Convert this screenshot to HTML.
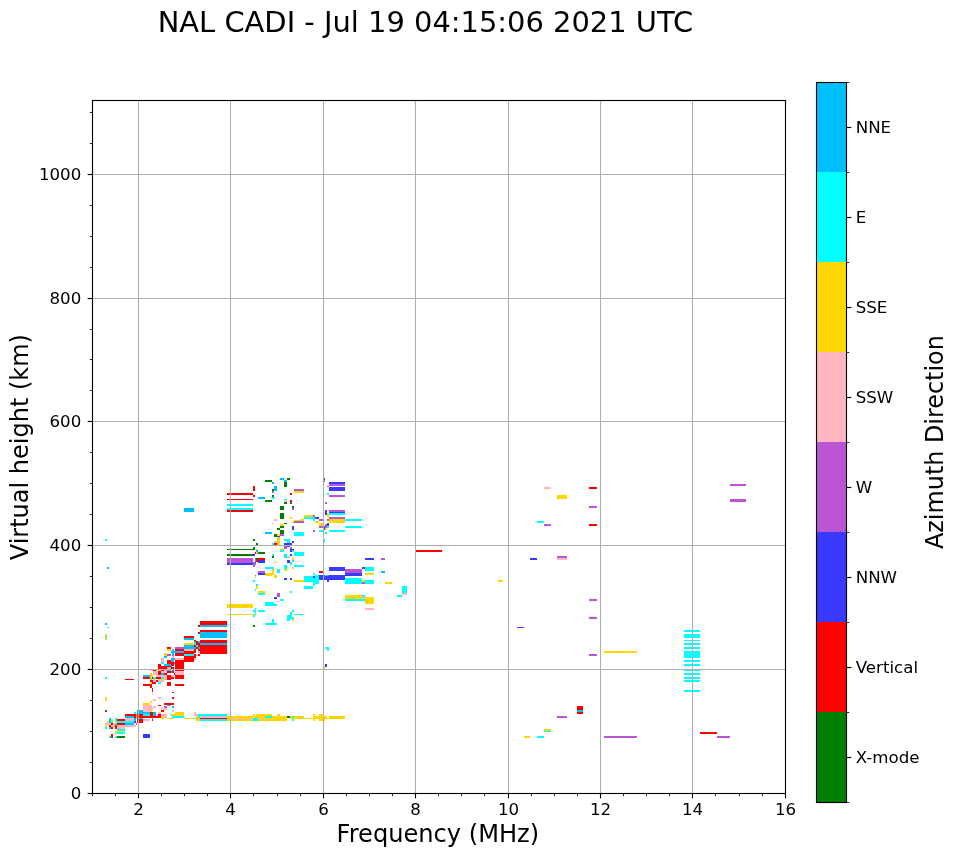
<!DOCTYPE html>
<html><head><meta charset="utf-8"><title>NAL CADI ionogram</title>
<style>
html,body{margin:0;padding:0;background:#fff}
svg{display:block}
text{font-family:"DejaVu Sans","Liberation Sans",sans-serif;fill:#000}
.t12{font-size:16.67px}.t17{font-size:25px}.t20{font-size:27.78px}
</style></head><body>
<svg width="958" height="857" viewBox="0 0 958 857">
<rect width="958" height="857" fill="#fff"/>
<g shape-rendering="crispEdges">
<rect x="104.9" y="697.1" width="2.0" height="3.8" fill="#ffd700"/>
<rect x="104.9" y="710.0" width="2.0" height="2.0" fill="#3a3aff"/>
<rect x="108.9" y="718.0" width="2.0" height="4.9" fill="#00bfff"/>
<rect x="110.9" y="719.0" width="2.0" height="2.0" fill="#ffd700"/>
<rect x="110.9" y="721.0" width="2.0" height="1.9" fill="#00ffff"/>
<rect x="106.9" y="721.0" width="2.0" height="1.9" fill="#ffd700"/>
<rect x="114.9" y="718.0" width="2.0" height="3.0" fill="#00ffff"/>
<rect x="114.9" y="721.0" width="2.0" height="1.9" fill="#ffd700"/>
<rect x="104.9" y="722.9" width="5.9" height="2.1" fill="#ffb6c1"/>
<rect x="110.9" y="722.9" width="2.0" height="2.1" fill="#ff0000"/>
<rect x="112.8" y="722.9" width="2.1" height="2.1" fill="#ffb6c1"/>
<rect x="114.9" y="722.9" width="2.0" height="2.1" fill="#00ffff"/>
<rect x="104.9" y="725.0" width="2.0" height="2.0" fill="#ffd700"/>
<rect x="108.9" y="725.0" width="2.0" height="2.0" fill="#ff0000"/>
<rect x="110.9" y="725.0" width="2.0" height="2.0" fill="#ffb6c1"/>
<rect x="112.8" y="725.0" width="2.1" height="2.0" fill="#ffd700"/>
<rect x="114.9" y="725.0" width="2.0" height="3.9" fill="#ff0000"/>
<rect x="104.9" y="727.0" width="2.0" height="1.9" fill="#00ffff"/>
<rect x="108.9" y="727.0" width="2.0" height="1.9" fill="#00bfff"/>
<rect x="110.9" y="727.0" width="2.0" height="1.9" fill="#ff0000"/>
<rect x="116.9" y="719.2" width="8.0" height="1.8" fill="#ff0000"/>
<rect x="116.9" y="721.0" width="8.0" height="1.9" fill="#00ffff"/>
<rect x="116.9" y="722.9" width="8.0" height="2.1" fill="#ff0000"/>
<rect x="116.9" y="725.0" width="8.0" height="3.9" fill="#ffb6c1"/>
<rect x="116.9" y="728.8" width="8.0" height="2.1" fill="#00ffff"/>
<rect x="114.9" y="730.9" width="2.0" height="2.9" fill="#ffd700"/>
<rect x="116.9" y="730.9" width="8.0" height="0.8" fill="#ffd700"/>
<rect x="116.9" y="731.8" width="8.0" height="2.1" fill="#00ffff"/>
<rect x="116.9" y="736.0" width="8.0" height="2.0" fill="#008000"/>
<rect x="114.9" y="736.0" width="2.0" height="2.0" fill="#00ffff"/>
<rect x="110.9" y="734.1" width="2.0" height="4.0" fill="#ff0000"/>
<rect x="108.9" y="736.0" width="2.0" height="2.0" fill="#00ffff"/>
<rect x="124.9" y="714.0" width="11.1" height="2.1" fill="#ff0000"/>
<rect x="124.9" y="716.1" width="9.0" height="1.9" fill="#00bfff"/>
<rect x="124.9" y="718.0" width="9.0" height="3.0" fill="#ffb6c1"/>
<rect x="124.9" y="721.0" width="9.0" height="1.9" fill="#00ffff"/>
<rect x="124.9" y="722.9" width="9.0" height="2.1" fill="#00bfff"/>
<rect x="124.9" y="725.0" width="11.1" height="2.0" fill="#ffb6c1"/>
<rect x="133.9" y="712.0" width="2.1" height="2.0" fill="#00ffff"/>
<rect x="133.9" y="716.1" width="2.1" height="1.9" fill="#ff0000"/>
<rect x="136.0" y="714.0" width="1.0" height="5.2" fill="#ffd700"/>
<rect x="133.9" y="718.0" width="2.1" height="3.0" fill="#00bfff"/>
<rect x="133.9" y="721.0" width="2.1" height="1.9" fill="#3a3aff"/>
<rect x="136.0" y="722.9" width="1.0" height="2.1" fill="#ba55d3"/>
<rect x="137.1" y="710.0" width="5.9" height="4.0" fill="#00bfff"/>
<rect x="137.1" y="714.0" width="5.9" height="4.0" fill="#ff0000"/>
<rect x="137.1" y="718.0" width="5.9" height="1.0" fill="#00bfff"/>
<rect x="137.1" y="719.0" width="5.9" height="3.9" fill="#ff0000"/>
<rect x="143.0" y="703.0" width="6.9" height="2.1" fill="#ffd700"/>
<rect x="149.9" y="701.0" width="2.0" height="2.1" fill="#ffd700"/>
<rect x="143.0" y="705.1" width="8.9" height="6.9" fill="#ffb6c1"/>
<rect x="149.9" y="710.0" width="2.0" height="2.0" fill="#ffd700"/>
<rect x="151.9" y="708.0" width="1.0" height="2.1" fill="#ffd700"/>
<rect x="143.0" y="712.0" width="6.9" height="2.0" fill="#00bfff"/>
<rect x="143.0" y="714.0" width="6.9" height="2.1" fill="#00ffff"/>
<rect x="143.0" y="716.1" width="17.8" height="1.9" fill="#ff0000"/>
<rect x="143.0" y="719.0" width="6.9" height="2.0" fill="#ffb6c1"/>
<rect x="149.9" y="712.0" width="3.0" height="4.1" fill="#ff0000"/>
<rect x="152.9" y="712.0" width="3.0" height="4.1" fill="#00bfff"/>
<rect x="155.9" y="714.0" width="2.0" height="2.1" fill="#ffb6c1"/>
<rect x="157.9" y="714.0" width="2.9" height="2.1" fill="#ff0000"/>
<rect x="157.9" y="712.0" width="2.9" height="2.0" fill="#ffb6c1"/>
<rect x="151.9" y="690.0" width="1.0" height="2.1" fill="#ff0000"/>
<rect x="151.9" y="693.1" width="1.0" height="1.9" fill="#ffd700"/>
<rect x="152.9" y="699.0" width="3.0" height="2.0" fill="#ffb6c1"/>
<rect x="157.9" y="697.0" width="2.9" height="2.0" fill="#ffb6c1"/>
<rect x="152.9" y="706.0" width="3.0" height="2.0" fill="#ffb6c1"/>
<rect x="157.9" y="704.9" width="2.9" height="1.0" fill="#ff0000"/>
<rect x="151.9" y="719.0" width="1.0" height="2.0" fill="#ff0000"/>
<rect x="151.9" y="718.0" width="1.0" height="1.0" fill="#00ffff"/>
<rect x="163.9" y="703.0" width="10.0" height="2.1" fill="#ff0000"/>
<rect x="166.8" y="705.1" width="4.2" height="0.8" fill="#00bfff"/>
<rect x="163.9" y="706.0" width="2.9" height="2.0" fill="#ba55d3"/>
<rect x="171.9" y="706.0" width="2.0" height="2.0" fill="#00bfff"/>
<rect x="160.9" y="708.0" width="5.9" height="2.1" fill="#ffb6c1"/>
<rect x="160.9" y="710.0" width="3.0" height="2.0" fill="#ff0000"/>
<rect x="171.9" y="710.0" width="2.0" height="2.0" fill="#ffb6c1"/>
<rect x="160.9" y="714.0" width="5.9" height="4.0" fill="#ffb6c1"/>
<rect x="160.9" y="716.1" width="3.0" height="2.9" fill="#ffd700"/>
<rect x="166.8" y="718.0" width="7.1" height="1.0" fill="#ffd700"/>
<rect x="171.9" y="691.9" width="2.0" height="1.0" fill="#ff0000"/>
<rect x="171.9" y="697.0" width="2.0" height="2.0" fill="#ff0000"/>
<rect x="171.0" y="714.0" width="0.9" height="2.1" fill="#00ffff"/>
<rect x="171.9" y="714.0" width="3.0" height="2.1" fill="#ffd700"/>
<rect x="174.9" y="712.0" width="9.0" height="4.1" fill="#ffd700"/>
<rect x="171.9" y="716.1" width="12.0" height="1.9" fill="#00ffff"/>
<rect x="183.9" y="718.0" width="12.1" height="1.0" fill="#ffd700"/>
<rect x="193.9" y="712.0" width="2.1" height="4.1" fill="#ffb6c1"/>
<rect x="196.0" y="714.0" width="2.1" height="2.1" fill="#ffb6c1"/>
<rect x="198.1" y="714.0" width="1.9" height="4.0" fill="#00ffff"/>
<rect x="196.0" y="716.1" width="4.0" height="4.9" fill="#ffd700"/>
<rect x="193.9" y="718.0" width="2.1" height="1.0" fill="#00ffff"/>
<rect x="143.0" y="734.1" width="6.9" height="4.0" fill="#3a3aff"/>
<rect x="195.0" y="712.0" width="1.0" height="4.1" fill="#ffb6c1"/>
<rect x="196.0" y="714.0" width="1.9" height="2.1" fill="#ffb6c1"/>
<rect x="197.9" y="714.0" width="29.1" height="2.1" fill="#00ffff"/>
<rect x="197.9" y="716.1" width="2.1" height="1.9" fill="#00ffff"/>
<rect x="200.0" y="716.1" width="27.0" height="1.9" fill="#ffb6c1"/>
<rect x="200.0" y="718.0" width="27.0" height="1.0" fill="#ff0000"/>
<rect x="200.0" y="719.0" width="27.0" height="2.0" fill="#00ffff"/>
<rect x="196.0" y="716.1" width="1.9" height="4.9" fill="#ffd700"/>
<rect x="197.9" y="718.0" width="2.1" height="3.0" fill="#ffd700"/>
<rect x="195.0" y="718.0" width="1.0" height="1.0" fill="#00ffff"/>
<rect x="227.0" y="716.1" width="25.9" height="1.9" fill="#ffd700"/>
<rect x="227.0" y="718.0" width="2.9" height="1.0" fill="#ffd700"/>
<rect x="230.0" y="718.0" width="23.0" height="1.0" fill="#ffb6c1"/>
<rect x="227.0" y="719.0" width="25.9" height="2.0" fill="#ffd700"/>
<rect x="252.9" y="714.0" width="2.0" height="2.1" fill="#ffd700"/>
<rect x="256.0" y="714.0" width="16.1" height="2.1" fill="#ffd700"/>
<rect x="252.9" y="716.1" width="12.0" height="1.9" fill="#ffd700"/>
<rect x="264.9" y="716.1" width="7.1" height="1.9" fill="#00ffff"/>
<rect x="252.9" y="718.0" width="5.0" height="3.0" fill="#00ffff"/>
<rect x="257.9" y="718.0" width="7.0" height="1.0" fill="#ffb6c1"/>
<rect x="257.9" y="719.0" width="7.0" height="2.0" fill="#ffd700"/>
<rect x="264.9" y="718.0" width="21.9" height="3.0" fill="#ffd700"/>
<rect x="272.0" y="716.1" width="14.8" height="1.9" fill="#ffd700"/>
<rect x="276.9" y="714.0" width="3.0" height="2.1" fill="#ffd700"/>
<rect x="285.0" y="716.1" width="1.9" height="4.9" fill="#ffd700"/>
<rect x="286.9" y="716.1" width="3.1" height="1.9" fill="#008000"/>
<rect x="290.0" y="716.1" width="2.0" height="1.9" fill="#ffd700"/>
<rect x="292.0" y="716.1" width="2.0" height="1.9" fill="#00ffff"/>
<rect x="292.0" y="719.0" width="2.0" height="2.0" fill="#00ffff"/>
<rect x="294.0" y="716.1" width="10.0" height="1.9" fill="#ffd700"/>
<rect x="290.0" y="718.0" width="23.0" height="1.0" fill="#ffd700"/>
<rect x="313.0" y="714.0" width="2.0" height="7.0" fill="#ffd700"/>
<rect x="315.0" y="716.1" width="4.1" height="2.9" fill="#ffd700"/>
<rect x="319.0" y="714.0" width="4.0" height="7.0" fill="#ffd700"/>
<rect x="324.0" y="716.1" width="2.9" height="2.9" fill="#ffd700"/>
<rect x="324.0" y="719.0" width="0.9" height="2.0" fill="#ffd700"/>
<rect x="327.0" y="718.0" width="2.0" height="1.0" fill="#ffd700"/>
<rect x="328.9" y="716.1" width="16.1" height="2.9" fill="#ffd700"/>
<rect x="104.9" y="622.9" width="2.0" height="2.1" fill="#00bfff"/>
<rect x="106.9" y="627.0" width="2.1" height="1.0" fill="#00ffff"/>
<rect x="104.9" y="634.1" width="2.0" height="1.9" fill="#ffd700"/>
<rect x="104.9" y="636.0" width="2.0" height="2.0" fill="#00ffff"/>
<rect x="104.9" y="638.0" width="2.0" height="2.1" fill="#ffd700"/>
<rect x="104.9" y="677.0" width="2.0" height="2.0" fill="#00ffff"/>
<rect x="124.9" y="679.0" width="9.0" height="1.0" fill="#ff0000"/>
<rect x="194.0" y="640.0" width="1.9" height="1.0" fill="#ff0000"/>
<rect x="184.0" y="643.0" width="10.0" height="2.0" fill="#ffd700"/>
<rect x="184.0" y="645.0" width="10.0" height="4.0" fill="#00bfff"/>
<rect x="184.0" y="649.0" width="10.0" height="2.0" fill="#ffb6c1"/>
<rect x="184.0" y="651.0" width="10.0" height="3.1" fill="#ff0000"/>
<rect x="184.0" y="654.1" width="10.0" height="1.9" fill="#00ffff"/>
<rect x="184.0" y="656.0" width="10.0" height="5.9" fill="#ff0000"/>
<rect x="174.9" y="647.0" width="9.1" height="2.0" fill="#ba55d3"/>
<rect x="174.9" y="649.0" width="9.1" height="2.0" fill="#ff0000"/>
<rect x="171.0" y="651.0" width="13.0" height="2.0" fill="#00bfff"/>
<rect x="172.0" y="649.0" width="2.0" height="7.0" fill="#00bfff"/>
<rect x="174.9" y="653.0" width="9.1" height="3.0" fill="#ff0000"/>
<rect x="174.9" y="658.0" width="9.1" height="2.0" fill="#ffb6c1"/>
<rect x="174.9" y="660.0" width="9.1" height="8.9" fill="#ff0000"/>
<rect x="167.0" y="647.0" width="4.0" height="2.0" fill="#ff0000"/>
<rect x="167.0" y="649.0" width="4.0" height="2.0" fill="#ffd700"/>
<rect x="164.0" y="653.0" width="3.0" height="3.0" fill="#ffd700"/>
<rect x="164.0" y="656.0" width="3.0" height="2.0" fill="#00bfff"/>
<rect x="167.0" y="654.1" width="4.0" height="1.9" fill="#ba55d3"/>
<rect x="172.0" y="656.0" width="2.0" height="2.0" fill="#ffb6c1"/>
<rect x="171.0" y="658.0" width="3.0" height="3.9" fill="#00bfff"/>
<rect x="174.0" y="658.0" width="0.9" height="2.0" fill="#ba55d3"/>
<rect x="167.0" y="660.0" width="4.0" height="3.9" fill="#ff0000"/>
<rect x="171.0" y="661.9" width="3.0" height="4.1" fill="#ff0000"/>
<rect x="174.0" y="661.9" width="0.9" height="2.1" fill="#ba55d3"/>
<rect x="161.0" y="658.0" width="3.0" height="3.9" fill="#ffb6c1"/>
<rect x="161.0" y="661.9" width="3.0" height="2.1" fill="#00ffff"/>
<rect x="158.0" y="664.0" width="2.9" height="4.9" fill="#ff0000"/>
<rect x="161.0" y="666.0" width="6.0" height="2.9" fill="#ff0000"/>
<rect x="164.0" y="664.0" width="7.0" height="2.0" fill="#00bfff"/>
<rect x="167.0" y="666.0" width="4.0" height="0.9" fill="#ff0000"/>
<rect x="167.0" y="666.9" width="4.0" height="2.0" fill="#ffb6c1"/>
<rect x="171.0" y="666.9" width="3.0" height="2.0" fill="#ff0000"/>
<rect x="171.0" y="666.0" width="1.0" height="0.9" fill="#00bfff"/>
<rect x="150.0" y="669.9" width="3.0" height="1.0" fill="#ffb6c1"/>
<rect x="153.0" y="669.9" width="3.0" height="1.0" fill="#ff0000"/>
<rect x="156.0" y="669.9" width="2.0" height="1.0" fill="#ffd700"/>
<rect x="158.0" y="669.9" width="2.9" height="1.0" fill="#ffb6c1"/>
<rect x="161.0" y="669.9" width="3.0" height="1.0" fill="#ff0000"/>
<rect x="164.0" y="669.9" width="3.0" height="3.0" fill="#ffb6c1"/>
<rect x="167.0" y="669.9" width="4.0" height="1.0" fill="#00bfff"/>
<rect x="172.0" y="669.9" width="2.0" height="1.0" fill="#00bfff"/>
<rect x="174.9" y="669.9" width="9.1" height="1.0" fill="#ff0000"/>
<rect x="153.0" y="670.9" width="5.0" height="4.0" fill="#ffb6c1"/>
<rect x="158.0" y="670.9" width="2.9" height="4.0" fill="#ff0000"/>
<rect x="161.0" y="670.9" width="3.0" height="2.0" fill="#ffb6c1"/>
<rect x="167.0" y="670.9" width="4.0" height="2.0" fill="#ff0000"/>
<rect x="171.0" y="670.9" width="1.0" height="2.0" fill="#00bfff"/>
<rect x="172.0" y="670.9" width="2.0" height="2.0" fill="#ff0000"/>
<rect x="174.9" y="670.9" width="9.1" height="4.0" fill="#ffb6c1"/>
<rect x="161.0" y="672.9" width="3.0" height="2.0" fill="#00bfff"/>
<rect x="164.0" y="672.9" width="3.0" height="2.0" fill="#ff0000"/>
<rect x="174.0" y="672.9" width="0.9" height="2.0" fill="#ff0000"/>
<rect x="150.0" y="672.9" width="2.0" height="4.0" fill="#ffd700"/>
<rect x="152.0" y="674.9" width="1.0" height="2.0" fill="#ffd700"/>
<rect x="143.0" y="674.9" width="7.0" height="2.0" fill="#00bfff"/>
<rect x="143.0" y="677.0" width="7.0" height="2.0" fill="#ff0000"/>
<rect x="150.0" y="677.0" width="2.0" height="2.0" fill="#ffd700"/>
<rect x="152.0" y="677.0" width="1.0" height="2.0" fill="#ff0000"/>
<rect x="156.0" y="674.9" width="11.0" height="2.0" fill="#ffb6c1"/>
<rect x="153.0" y="677.0" width="3.0" height="2.0" fill="#00ffff"/>
<rect x="156.0" y="677.0" width="4.9" height="2.0" fill="#ff0000"/>
<rect x="161.0" y="677.0" width="3.0" height="2.0" fill="#00ffff"/>
<rect x="164.0" y="677.0" width="3.0" height="3.0" fill="#ffb6c1"/>
<rect x="167.0" y="674.9" width="4.0" height="5.0" fill="#ff0000"/>
<rect x="171.0" y="674.9" width="3.0" height="2.0" fill="#ffb6c1"/>
<rect x="171.0" y="677.0" width="3.0" height="2.0" fill="#ff0000"/>
<rect x="174.9" y="674.9" width="9.1" height="4.0" fill="#ff0000"/>
<rect x="150.0" y="679.0" width="2.0" height="1.0" fill="#00ffff"/>
<rect x="153.0" y="679.0" width="3.0" height="1.0" fill="#ffd700"/>
<rect x="161.0" y="679.0" width="3.0" height="1.0" fill="#ffd700"/>
<rect x="150.0" y="680.0" width="3.0" height="2.0" fill="#ff0000"/>
<rect x="153.0" y="680.0" width="3.0" height="2.0" fill="#ffb6c1"/>
<rect x="156.0" y="680.0" width="2.0" height="2.0" fill="#ff0000"/>
<rect x="158.0" y="679.0" width="2.9" height="3.0" fill="#ffb6c1"/>
<rect x="161.0" y="680.0" width="3.0" height="2.0" fill="#ffb6c1"/>
<rect x="150.0" y="682.0" width="2.0" height="2.0" fill="#ffd700"/>
<rect x="152.0" y="682.0" width="4.0" height="2.0" fill="#ff0000"/>
<rect x="158.0" y="682.0" width="2.9" height="2.0" fill="#00ffff"/>
<rect x="143.0" y="684.0" width="9.0" height="2.0" fill="#ff0000"/>
<rect x="150.0" y="686.0" width="2.0" height="2.0" fill="#ff0000"/>
<rect x="152.0" y="688.0" width="1.0" height="2.0" fill="#ff0000"/>
<rect x="167.0" y="682.0" width="4.0" height="4.0" fill="#ff0000"/>
<rect x="174.9" y="684.0" width="9.1" height="2.0" fill="#ff0000"/>
<rect x="194.0" y="640.0" width="2.0" height="1.0" fill="#ff0000"/>
<rect x="194.0" y="641.0" width="2.0" height="2.0" fill="#00bfff"/>
<rect x="196.0" y="641.0" width="2.0" height="2.0" fill="#ff0000"/>
<rect x="198.0" y="641.0" width="2.0" height="2.0" fill="#00bfff"/>
<rect x="194.0" y="643.0" width="2.0" height="2.0" fill="#00ffff"/>
<rect x="196.0" y="643.0" width="4.0" height="2.0" fill="#ff0000"/>
<rect x="194.0" y="645.0" width="2.0" height="2.0" fill="#ff0000"/>
<rect x="196.0" y="645.0" width="2.0" height="2.0" fill="#00ffff"/>
<rect x="198.0" y="645.0" width="2.0" height="2.0" fill="#ff0000"/>
<rect x="194.0" y="647.0" width="2.0" height="2.0" fill="#00bfff"/>
<rect x="196.0" y="647.0" width="2.0" height="2.0" fill="#ff0000"/>
<rect x="198.0" y="647.0" width="2.0" height="2.0" fill="#00bfff"/>
<rect x="194.0" y="649.0" width="2.0" height="2.0" fill="#ff0000"/>
<rect x="198.0" y="649.0" width="2.0" height="2.0" fill="#ff0000"/>
<rect x="194.0" y="651.0" width="2.0" height="2.0" fill="#ff0000"/>
<rect x="198.0" y="651.0" width="2.0" height="2.0" fill="#ffb6c1"/>
<rect x="194.0" y="654.1" width="2.0" height="1.9" fill="#ff0000"/>
<rect x="196.0" y="654.1" width="2.0" height="1.9" fill="#ffb6c1"/>
<rect x="198.0" y="654.1" width="2.0" height="1.9" fill="#ff0000"/>
<rect x="194.0" y="656.0" width="2.0" height="2.0" fill="#ff0000"/>
<rect x="194.0" y="658.0" width="2.0" height="2.0" fill="#ffb6c1"/>
<rect x="200.0" y="640.0" width="26.9" height="3.0" fill="#ff0000"/>
<rect x="200.0" y="643.0" width="26.9" height="2.0" fill="#00bfff"/>
<rect x="200.0" y="645.0" width="26.9" height="8.8" fill="#ff0000"/>
<rect x="227.0" y="604.0" width="13.0" height="4.0" fill="#ffd700"/>
<rect x="227.0" y="614.0" width="13.0" height="1.0" fill="#ffd700"/>
<rect x="200.0" y="621.0" width="26.9" height="4.0" fill="#ff0000"/>
<rect x="200.0" y="625.1" width="26.9" height="2.0" fill="#00bfff"/>
<rect x="198.0" y="625.1" width="2.0" height="2.0" fill="#ff0000"/>
<rect x="200.0" y="630.1" width="26.9" height="2.0" fill="#ff0000"/>
<rect x="200.0" y="632.1" width="26.9" height="5.9" fill="#00bfff"/>
<rect x="198.0" y="632.1" width="2.0" height="2.0" fill="#ff0000"/>
<rect x="200.0" y="640.1" width="26.9" height="3.0" fill="#ff0000"/>
<rect x="184.0" y="636.0" width="10.0" height="1.9" fill="#ff0000"/>
<rect x="184.0" y="638.0" width="10.0" height="2.1" fill="#00bfff"/>
<rect x="180.0" y="647.1" width="4.0" height="2.0" fill="#ba55d3"/>
<rect x="194.0" y="640.1" width="2.0" height="1.0" fill="#ff0000"/>
<rect x="227.0" y="604.1" width="26.0" height="3.9" fill="#ffd700"/>
<rect x="227.0" y="614.0" width="26.0" height="1.0" fill="#ffd700"/>
<rect x="255.0" y="590.0" width="1.0" height="1.0" fill="#00ffff"/>
<rect x="258.0" y="591.0" width="7.0" height="1.9" fill="#ffd700"/>
<rect x="258.0" y="592.9" width="7.0" height="2.1" fill="#00ffff"/>
<rect x="277.0" y="592.9" width="3.0" height="4.1" fill="#ba55d3"/>
<rect x="274.0" y="597.0" width="3.0" height="2.0" fill="#3a3aff"/>
<rect x="280.0" y="599.0" width="4.0" height="2.0" fill="#00ffff"/>
<rect x="277.0" y="601.0" width="3.0" height="1.0" fill="#ffb6c1"/>
<rect x="289.9" y="591.0" width="2.1" height="1.9" fill="#00ffff"/>
<rect x="265.0" y="602.0" width="9.0" height="4.0" fill="#00ffff"/>
<rect x="274.0" y="604.1" width="3.0" height="1.9" fill="#00ffff"/>
<rect x="253.0" y="610.0" width="2.0" height="2.0" fill="#00ffff"/>
<rect x="255.0" y="608.0" width="1.0" height="7.1" fill="#00ffff"/>
<rect x="253.0" y="614.0" width="2.0" height="1.0" fill="#ffb6c1"/>
<rect x="253.0" y="615.1" width="2.0" height="1.9" fill="#00ffff"/>
<rect x="258.0" y="610.0" width="7.0" height="2.0" fill="#00ffff"/>
<rect x="292.0" y="610.0" width="2.0" height="2.0" fill="#00ffff"/>
<rect x="289.9" y="612.0" width="2.1" height="5.9" fill="#00ffff"/>
<rect x="287.0" y="615.1" width="2.9" height="5.9" fill="#00ffff"/>
<rect x="289.9" y="616.9" width="4.1" height="2.1" fill="#00ffff"/>
<rect x="292.0" y="619.0" width="2.0" height="2.0" fill="#ffd700"/>
<rect x="294.0" y="614.0" width="10.0" height="1.0" fill="#00ffff"/>
<rect x="272.0" y="619.0" width="2.0" height="4.0" fill="#00ffff"/>
<rect x="265.0" y="623.0" width="12.0" height="2.0" fill="#00ffff"/>
<rect x="253.0" y="625.0" width="2.0" height="2.0" fill="#008000"/>
<rect x="227.0" y="549.0" width="26.0" height="1.0" fill="#008000"/>
<rect x="253.0" y="546.9" width="2.0" height="3.1" fill="#008000"/>
<rect x="227.0" y="554.0" width="26.0" height="2.0" fill="#008000"/>
<rect x="253.0" y="554.0" width="2.0" height="2.0" fill="#3a3aff"/>
<rect x="227.0" y="558.0" width="26.0" height="5.0" fill="#ba55d3"/>
<rect x="227.0" y="563.0" width="26.0" height="2.0" fill="#3a3aff"/>
<rect x="253.0" y="562.0" width="2.0" height="1.0" fill="#00bfff"/>
<rect x="253.0" y="563.0" width="3.0" height="2.0" fill="#ba55d3"/>
<rect x="253.0" y="565.0" width="2.0" height="2.0" fill="#ba55d3"/>
<rect x="253.0" y="539.0" width="2.0" height="2.0" fill="#008000"/>
<rect x="256.0" y="543.0" width="2.0" height="2.1" fill="#008000"/>
<rect x="255.0" y="545.6" width="1.0" height="1.4" fill="#ffb6c1"/>
<rect x="256.0" y="549.0" width="2.0" height="1.0" fill="#ffd700"/>
<rect x="256.0" y="550.1" width="2.0" height="2.0" fill="#00bfff"/>
<rect x="255.0" y="552.0" width="1.0" height="2.0" fill="#ff0000"/>
<rect x="256.0" y="552.0" width="2.0" height="2.0" fill="#ffb6c1"/>
<rect x="258.0" y="552.0" width="7.0" height="2.0" fill="#008000"/>
<rect x="256.0" y="558.0" width="2.0" height="2.0" fill="#008000"/>
<rect x="258.0" y="558.0" width="7.0" height="2.0" fill="#ff0000"/>
<rect x="256.0" y="560.0" width="2.0" height="2.0" fill="#ff0000"/>
<rect x="258.0" y="560.0" width="7.0" height="3.0" fill="#3a3aff"/>
<rect x="265.0" y="532.0" width="7.0" height="2.0" fill="#00bfff"/>
<rect x="274.0" y="520.0" width="3.0" height="1.0" fill="#ffb6c1"/>
<rect x="272.0" y="522.9" width="2.0" height="1.0" fill="#ffb6c1"/>
<rect x="280.0" y="524.0" width="4.0" height="2.1" fill="#ffd700"/>
<rect x="284.0" y="522.9" width="3.0" height="1.0" fill="#008000"/>
<rect x="280.0" y="526.1" width="4.0" height="2.0" fill="#008000"/>
<rect x="277.0" y="528.0" width="3.0" height="2.0" fill="#008000"/>
<rect x="280.0" y="530.0" width="4.0" height="4.0" fill="#008000"/>
<rect x="274.0" y="534.0" width="3.0" height="3.0" fill="#008000"/>
<rect x="277.0" y="534.0" width="3.0" height="2.0" fill="#ffd700"/>
<rect x="280.0" y="534.0" width="4.0" height="2.0" fill="#ba55d3"/>
<rect x="277.0" y="536.0" width="3.0" height="1.0" fill="#3a3aff"/>
<rect x="277.0" y="537.0" width="3.0" height="8.0" fill="#ffd700"/>
<rect x="274.0" y="541.0" width="3.0" height="2.0" fill="#ffb6c1"/>
<rect x="274.0" y="543.0" width="3.0" height="2.1" fill="#ff0000"/>
<rect x="272.0" y="543.0" width="2.0" height="2.1" fill="#00ffff"/>
<rect x="292.0" y="521.0" width="2.0" height="1.9" fill="#ffd700"/>
<rect x="294.0" y="520.0" width="10.0" height="1.0" fill="#ffd700"/>
<rect x="294.0" y="521.0" width="10.0" height="1.9" fill="#ba55d3"/>
<rect x="292.0" y="526.1" width="2.0" height="4.0" fill="#3a3aff"/>
<rect x="294.0" y="532.0" width="10.0" height="4.0" fill="#00ffff"/>
<rect x="284.0" y="539.0" width="5.9" height="2.0" fill="#00ffff"/>
<rect x="287.0" y="541.0" width="2.9" height="2.0" fill="#00ffff"/>
<rect x="284.0" y="543.0" width="8.0" height="2.1" fill="#3a3aff"/>
<rect x="292.0" y="541.0" width="2.0" height="2.0" fill="#3a3aff"/>
<rect x="284.0" y="546.1" width="3.0" height="2.9" fill="#ba55d3"/>
<rect x="287.0" y="546.1" width="2.9" height="0.8" fill="#3a3aff"/>
<rect x="289.9" y="546.9" width="2.1" height="2.1" fill="#ba55d3"/>
<rect x="280.0" y="549.0" width="4.0" height="1.0" fill="#ffd700"/>
<rect x="280.0" y="550.1" width="4.0" height="2.0" fill="#00ffff"/>
<rect x="289.9" y="549.0" width="2.1" height="3.0" fill="#3a3aff"/>
<rect x="292.0" y="549.0" width="2.0" height="1.0" fill="#3a3aff"/>
<rect x="292.0" y="550.1" width="2.0" height="2.0" fill="#00ffff"/>
<rect x="294.0" y="552.0" width="10.0" height="4.0" fill="#00ffff"/>
<rect x="272.0" y="554.0" width="2.0" height="2.0" fill="#00ffff"/>
<rect x="272.0" y="556.0" width="2.0" height="2.0" fill="#008000"/>
<rect x="284.0" y="554.0" width="3.0" height="4.0" fill="#00ffff"/>
<rect x="287.0" y="556.0" width="2.9" height="2.0" fill="#ffb6c1"/>
<rect x="289.9" y="554.0" width="2.1" height="2.0" fill="#3a3aff"/>
<rect x="292.0" y="558.0" width="2.0" height="2.0" fill="#ffd700"/>
<rect x="292.0" y="560.0" width="2.0" height="2.0" fill="#00ffff"/>
<rect x="287.0" y="560.0" width="2.9" height="3.0" fill="#3a3aff"/>
<rect x="289.9" y="562.0" width="2.1" height="3.0" fill="#00ffff"/>
<rect x="274.0" y="562.0" width="3.0" height="1.0" fill="#ffd700"/>
<rect x="284.0" y="565.0" width="3.0" height="4.1" fill="#00ffff"/>
<rect x="284.0" y="569.1" width="3.0" height="1.9" fill="#ffd700"/>
<rect x="292.0" y="567.0" width="2.0" height="2.1" fill="#ffd700"/>
<rect x="294.0" y="565.0" width="10.0" height="2.0" fill="#00ffff"/>
<rect x="265.0" y="567.0" width="9.0" height="2.1" fill="#00ffff"/>
<rect x="272.0" y="569.1" width="2.0" height="5.9" fill="#ffd700"/>
<rect x="265.0" y="573.0" width="7.0" height="2.9" fill="#ffd700"/>
<rect x="277.0" y="569.1" width="3.0" height="4.0" fill="#00ffff"/>
<rect x="274.0" y="575.0" width="3.0" height="2.9" fill="#ffd700"/>
<rect x="258.0" y="570.9" width="7.0" height="2.1" fill="#ba55d3"/>
<rect x="258.0" y="573.0" width="7.0" height="2.0" fill="#3a3aff"/>
<rect x="255.0" y="575.0" width="1.0" height="0.9" fill="#ba55d3"/>
<rect x="255.0" y="575.9" width="1.0" height="2.0" fill="#ffd700"/>
<rect x="253.0" y="580.0" width="2.0" height="2.0" fill="#00ffff"/>
<rect x="256.0" y="584.0" width="2.0" height="2.0" fill="#00ffff"/>
<rect x="256.0" y="586.0" width="2.0" height="2.9" fill="#ffd700"/>
<rect x="255.0" y="588.9" width="1.0" height="1.1" fill="#00ffff"/>
<rect x="284.0" y="577.9" width="3.0" height="2.1" fill="#3a3aff"/>
<rect x="289.9" y="577.9" width="2.1" height="2.1" fill="#3a3aff"/>
<rect x="294.0" y="580.0" width="10.0" height="2.0" fill="#ffd700"/>
<rect x="312.9" y="520.0" width="2.0" height="1.0" fill="#00ffff"/>
<rect x="314.9" y="521.0" width="4.1" height="1.9" fill="#ffd700"/>
<rect x="319.0" y="520.0" width="4.0" height="1.0" fill="#ba55d3"/>
<rect x="319.0" y="522.9" width="4.0" height="3.1" fill="#ffd700"/>
<rect x="319.0" y="526.1" width="4.0" height="2.0" fill="#ba55d3"/>
<rect x="312.9" y="530.0" width="2.0" height="2.0" fill="#ba55d3"/>
<rect x="319.0" y="530.0" width="4.0" height="2.0" fill="#00ffff"/>
<rect x="326.9" y="520.0" width="2.1" height="1.0" fill="#ba55d3"/>
<rect x="326.9" y="522.9" width="2.1" height="3.1" fill="#3a3aff"/>
<rect x="325.1" y="524.0" width="1.9" height="4.1" fill="#ba55d3"/>
<rect x="326.9" y="526.1" width="2.1" height="2.0" fill="#00ffff"/>
<rect x="324.0" y="526.1" width="1.0" height="4.0" fill="#3a3aff"/>
<rect x="325.1" y="528.0" width="1.9" height="2.0" fill="#ffd700"/>
<rect x="325.1" y="532.0" width="1.9" height="2.0" fill="#00ffff"/>
<rect x="324.0" y="539.0" width="1.0" height="4.0" fill="#00ffff"/>
<rect x="329.0" y="520.0" width="16.0" height="2.9" fill="#ffd700"/>
<rect x="345.0" y="520.0" width="17.0" height="1.0" fill="#00ffff"/>
<rect x="345.0" y="526.1" width="17.0" height="2.0" fill="#00ffff"/>
<rect x="329.0" y="530.0" width="16.0" height="2.0" fill="#00ffff"/>
<rect x="364.9" y="558.0" width="9.1" height="2.0" fill="#3a3aff"/>
<rect x="381.0" y="558.0" width="4.0" height="2.0" fill="#ba55d3"/>
<rect x="329.0" y="567.0" width="16.0" height="4.0" fill="#3a3aff"/>
<rect x="362.0" y="567.0" width="2.9" height="2.1" fill="#3a3aff"/>
<rect x="364.9" y="567.0" width="9.1" height="4.0" fill="#00ffff"/>
<rect x="345.0" y="569.1" width="17.0" height="4.0" fill="#ba55d3"/>
<rect x="345.0" y="573.0" width="17.0" height="2.9" fill="#3a3aff"/>
<rect x="381.0" y="570.9" width="4.0" height="2.1" fill="#00bfff"/>
<rect x="364.9" y="573.0" width="9.1" height="2.0" fill="#ffd700"/>
<rect x="319.0" y="570.9" width="4.0" height="2.1" fill="#ff0000"/>
<rect x="312.9" y="573.0" width="2.0" height="2.0" fill="#00ffff"/>
<rect x="312.9" y="575.9" width="2.0" height="2.0" fill="#3a3aff"/>
<rect x="304.0" y="575.9" width="9.0" height="6.1" fill="#00ffff"/>
<rect x="314.9" y="575.0" width="4.1" height="9.0" fill="#00ffff"/>
<rect x="312.9" y="577.9" width="2.0" height="8.0" fill="#00ffff"/>
<rect x="319.0" y="575.0" width="26.0" height="5.0" fill="#3a3aff"/>
<rect x="325.1" y="575.0" width="1.9" height="0.9" fill="#00ffff"/>
<rect x="326.9" y="575.0" width="2.1" height="0.9" fill="#ba55d3"/>
<rect x="326.9" y="580.0" width="2.1" height="2.0" fill="#3a3aff"/>
<rect x="345.0" y="577.9" width="17.0" height="6.1" fill="#00ffff"/>
<rect x="362.0" y="580.0" width="2.9" height="2.0" fill="#ffd700"/>
<rect x="362.0" y="582.0" width="2.9" height="2.0" fill="#ba55d3"/>
<rect x="364.9" y="580.0" width="9.1" height="4.0" fill="#00ffff"/>
<rect x="385.0" y="582.0" width="7.0" height="2.0" fill="#ffd700"/>
<rect x="304.0" y="586.0" width="9.0" height="2.9" fill="#00ffff"/>
<rect x="416.0" y="550.0" width="26.0" height="2.0" fill="#ff0000"/>
<rect x="381.0" y="558.0" width="4.0" height="2.1" fill="#ba55d3"/>
<rect x="381.0" y="571.0" width="4.0" height="2.0" fill="#00bfff"/>
<rect x="385.0" y="582.0" width="7.0" height="2.0" fill="#ffd700"/>
<rect x="402.0" y="585.9" width="5.0" height="7.1" fill="#00ffff"/>
<rect x="402.0" y="593.0" width="5.0" height="1.9" fill="#ffb6c1"/>
<rect x="397.0" y="594.9" width="5.0" height="2.1" fill="#00ffff"/>
<rect x="345.0" y="595.0" width="17.0" height="4.0" fill="#ffd700"/>
<rect x="362.0" y="595.0" width="2.9" height="2.0" fill="#00ffff"/>
<rect x="362.0" y="597.0" width="2.9" height="2.0" fill="#ffb6c1"/>
<rect x="345.0" y="599.0" width="20.0" height="2.0" fill="#00ffff"/>
<rect x="364.9" y="597.0" width="9.0" height="6.9" fill="#ffd700"/>
<rect x="364.9" y="608.0" width="9.0" height="2.0" fill="#ffb6c1"/>
<rect x="325.0" y="647.0" width="4.0" height="2.0" fill="#00ffff"/>
<rect x="327.0" y="649.0" width="2.0" height="2.0" fill="#00ffff"/>
<rect x="325.0" y="664.1" width="2.0" height="2.9" fill="#3a3aff"/>
<rect x="323.9" y="666.1" width="1.1" height="2.9" fill="#ffd700"/>
<rect x="227.0" y="493.0" width="26.0" height="2.0" fill="#ff0000"/>
<rect x="227.0" y="499.0" width="26.0" height="0.9" fill="#ff0000"/>
<rect x="227.0" y="504.1" width="26.0" height="2.0" fill="#00ffff"/>
<rect x="227.0" y="508.0" width="26.0" height="2.0" fill="#00ffff"/>
<rect x="227.0" y="510.0" width="26.0" height="2.0" fill="#ff0000"/>
<rect x="253.0" y="486.0" width="2.0" height="5.0" fill="#ff0000"/>
<rect x="253.0" y="495.0" width="2.0" height="2.0" fill="#ff0000"/>
<rect x="258.0" y="497.0" width="7.0" height="2.1" fill="#00bfff"/>
<rect x="265.0" y="480.0" width="7.0" height="2.0" fill="#008000"/>
<rect x="272.0" y="482.0" width="2.0" height="2.0" fill="#00bfff"/>
<rect x="274.0" y="486.0" width="3.0" height="5.0" fill="#00bfff"/>
<rect x="272.0" y="489.0" width="2.0" height="2.0" fill="#008000"/>
<rect x="272.0" y="491.0" width="2.0" height="2.0" fill="#ba55d3"/>
<rect x="272.0" y="495.0" width="2.0" height="2.0" fill="#008000"/>
<rect x="272.0" y="497.0" width="2.0" height="2.1" fill="#00ffff"/>
<rect x="265.0" y="500.0" width="7.0" height="2.0" fill="#008000"/>
<rect x="280.0" y="478.0" width="4.0" height="2.1" fill="#00bfff"/>
<rect x="284.0" y="480.0" width="3.0" height="2.0" fill="#00bfff"/>
<rect x="287.0" y="478.0" width="2.9" height="2.1" fill="#008000"/>
<rect x="284.0" y="482.0" width="3.0" height="4.9" fill="#008000"/>
<rect x="294.0" y="489.0" width="10.0" height="2.0" fill="#ba55d3"/>
<rect x="294.0" y="491.0" width="10.0" height="2.0" fill="#ffd700"/>
<rect x="289.9" y="493.0" width="2.1" height="2.0" fill="#ff0000"/>
<rect x="284.0" y="499.0" width="3.0" height="0.9" fill="#00ffff"/>
<rect x="284.0" y="500.0" width="3.0" height="2.0" fill="#ffb6c1"/>
<rect x="284.0" y="502.0" width="3.0" height="2.1" fill="#008000"/>
<rect x="289.9" y="500.0" width="2.1" height="2.0" fill="#ff0000"/>
<rect x="289.9" y="502.0" width="2.1" height="2.1" fill="#008000"/>
<rect x="280.0" y="506.0" width="4.0" height="4.0" fill="#008000"/>
<rect x="292.0" y="506.0" width="2.0" height="2.0" fill="#3a3aff"/>
<rect x="292.0" y="508.0" width="2.0" height="2.0" fill="#ba55d3"/>
<rect x="280.0" y="513.0" width="4.0" height="5.9" fill="#008000"/>
<rect x="289.9" y="517.0" width="2.1" height="2.0" fill="#ffd700"/>
<rect x="274.0" y="519.0" width="3.0" height="2.0" fill="#ffb6c1"/>
<rect x="272.0" y="523.0" width="2.0" height="0.9" fill="#ffb6c1"/>
<rect x="292.0" y="521.0" width="2.0" height="2.1" fill="#ffd700"/>
<rect x="292.0" y="526.0" width="2.0" height="4.1" fill="#3a3aff"/>
<rect x="324.0" y="478.0" width="1.0" height="2.1" fill="#3a3aff"/>
<rect x="324.0" y="480.0" width="1.0" height="2.0" fill="#ba55d3"/>
<rect x="329.0" y="482.0" width="16.0" height="2.0" fill="#3a3aff"/>
<rect x="329.0" y="484.0" width="16.0" height="2.0" fill="#ba55d3"/>
<rect x="326.9" y="486.0" width="2.1" height="0.9" fill="#ba55d3"/>
<rect x="329.0" y="486.9" width="16.0" height="4.1" fill="#3a3aff"/>
<rect x="326.9" y="493.0" width="2.1" height="2.0" fill="#00ffff"/>
<rect x="329.0" y="495.0" width="16.0" height="2.0" fill="#ba55d3"/>
<rect x="325.1" y="502.0" width="1.9" height="2.1" fill="#ba55d3"/>
<rect x="325.1" y="510.0" width="1.9" height="5.0" fill="#3a3aff"/>
<rect x="329.0" y="510.0" width="16.0" height="2.0" fill="#ba55d3"/>
<rect x="329.0" y="512.0" width="16.0" height="1.0" fill="#3a3aff"/>
<rect x="329.0" y="513.0" width="16.0" height="2.0" fill="#00ffff"/>
<rect x="326.9" y="513.0" width="2.1" height="4.0" fill="#ffd700"/>
<rect x="329.0" y="517.0" width="16.0" height="2.0" fill="#ba55d3"/>
<rect x="329.0" y="519.0" width="16.0" height="4.1" fill="#ffd700"/>
<rect x="326.9" y="519.0" width="2.1" height="2.0" fill="#ba55d3"/>
<rect x="345.0" y="519.0" width="17.0" height="2.0" fill="#00ffff"/>
<rect x="304.0" y="515.0" width="9.0" height="2.0" fill="#ffd700"/>
<rect x="312.9" y="515.0" width="2.0" height="2.0" fill="#ba55d3"/>
<rect x="304.0" y="517.0" width="11.0" height="2.0" fill="#00ffff"/>
<rect x="312.9" y="519.0" width="2.0" height="2.0" fill="#00ffff"/>
<rect x="314.9" y="517.0" width="4.1" height="2.0" fill="#3a3aff"/>
<rect x="319.0" y="519.0" width="4.0" height="2.0" fill="#ba55d3"/>
<rect x="314.9" y="521.0" width="4.1" height="2.1" fill="#ffd700"/>
<rect x="300.0" y="519.0" width="4.0" height="2.0" fill="#ffd700"/>
<rect x="300.0" y="521.0" width="4.0" height="2.1" fill="#ba55d3"/>
<rect x="319.0" y="523.0" width="4.0" height="2.9" fill="#ffd700"/>
<rect x="319.0" y="526.0" width="4.0" height="2.0" fill="#ba55d3"/>
<rect x="326.9" y="523.0" width="2.1" height="2.9" fill="#3a3aff"/>
<rect x="325.1" y="524.0" width="1.9" height="4.0" fill="#ba55d3"/>
<rect x="326.9" y="526.0" width="2.1" height="2.0" fill="#00ffff"/>
<rect x="544.0" y="486.9" width="7.0" height="2.0" fill="#ffb6c1"/>
<rect x="556.9" y="494.9" width="10.1" height="4.1" fill="#ffd700"/>
<rect x="589.0" y="486.9" width="8.0" height="2.0" fill="#ff0000"/>
<rect x="589.0" y="506.0" width="8.0" height="2.0" fill="#ba55d3"/>
<rect x="589.0" y="523.9" width="8.0" height="2.0" fill="#ff0000"/>
<rect x="536.9" y="521.0" width="7.1" height="2.0" fill="#00ffff"/>
<rect x="544.0" y="523.9" width="7.0" height="2.0" fill="#ba55d3"/>
<rect x="530.0" y="557.9" width="7.0" height="2.0" fill="#3a3aff"/>
<rect x="556.9" y="556.0" width="10.1" height="2.0" fill="#ba55d3"/>
<rect x="556.9" y="557.9" width="10.1" height="2.0" fill="#ffb6c1"/>
<rect x="498.0" y="579.9" width="5.0" height="2.0" fill="#ffd700"/>
<rect x="589.0" y="599.0" width="8.0" height="2.1" fill="#ba55d3"/>
<rect x="589.0" y="617.1" width="8.0" height="1.9" fill="#ba55d3"/>
<rect x="517.0" y="627.0" width="7.1" height="0.9" fill="#3a3aff"/>
<rect x="589.0" y="654.0" width="8.0" height="1.9" fill="#ba55d3"/>
<rect x="604.0" y="651.0" width="33.0" height="1.9" fill="#ffd700"/>
<rect x="577.1" y="706.1" width="6.0" height="3.9" fill="#ff0000"/>
<rect x="577.1" y="710.0" width="6.0" height="2.1" fill="#00bfff"/>
<rect x="577.1" y="712.1" width="6.0" height="1.9" fill="#ff0000"/>
<rect x="557.1" y="716.0" width="9.9" height="2.1" fill="#ba55d3"/>
<rect x="544.1" y="729.1" width="6.9" height="2.1" fill="#ffd700"/>
<rect x="544.1" y="731.1" width="6.9" height="0.9" fill="#00ffff"/>
<rect x="524.1" y="736.0" width="6.0" height="2.1" fill="#ffd700"/>
<rect x="537.0" y="736.0" width="7.1" height="2.1" fill="#00ffff"/>
<rect x="604.0" y="736.0" width="33.0" height="2.1" fill="#ba55d3"/>
<rect x="699.9" y="731.7" width="17.2" height="2.2" fill="#ff0000"/>
<rect x="717.1" y="736.0" width="12.9" height="2.1" fill="#ba55d3"/>
<rect x="684.0" y="630.1" width="16.0" height="1.9" fill="#00ffff"/>
<rect x="684.0" y="634.0" width="16.0" height="3.9" fill="#00ffff"/>
<rect x="684.0" y="640.0" width="16.0" height="1.0" fill="#00ffff"/>
<rect x="684.0" y="642.9" width="16.0" height="2.1" fill="#00ffff"/>
<rect x="684.0" y="647.0" width="16.0" height="2.1" fill="#00ffff"/>
<rect x="684.0" y="651.0" width="16.0" height="7.0" fill="#00ffff"/>
<rect x="684.0" y="659.9" width="16.0" height="2.1" fill="#00ffff"/>
<rect x="684.0" y="663.9" width="16.0" height="2.1" fill="#00ffff"/>
<rect x="684.0" y="669.0" width="16.0" height="2.0" fill="#00ffff"/>
<rect x="684.0" y="673.0" width="16.0" height="2.1" fill="#00ffff"/>
<rect x="684.0" y="677.0" width="16.0" height="2.0" fill="#00ffff"/>
<rect x="684.0" y="680.0" width="16.0" height="2.1" fill="#00ffff"/>
<rect x="684.0" y="690.0" width="16.0" height="2.1" fill="#00ffff"/>
<rect x="730.0" y="484.0" width="16.0" height="1.9" fill="#ba55d3"/>
<rect x="730.0" y="499.0" width="16.0" height="3.0" fill="#ba55d3"/>
<rect x="183.9" y="508.0" width="10.1" height="3.9" fill="#00bfff"/>
<rect x="105.1" y="539.0" width="2.0" height="2.0" fill="#00ffff"/>
<rect x="107.0" y="566.9" width="2.0" height="2.0" fill="#00bfff"/>
<rect x="255.2" y="558.1" width="0.7" height="4.0" fill="#ba55d3"/>
<rect x="254.8" y="562.1" width="1.1" height="1.0" fill="#3a3aff"/>
</g>
<g stroke="#b0b0b0" stroke-width="1.11" fill="none">
<line x1="138.50" y1="100.5" x2="138.50" y2="793.5"/>
<line x1="230.50" y1="100.5" x2="230.50" y2="793.5"/>
<line x1="323.50" y1="100.5" x2="323.50" y2="793.5"/>
<line x1="415.50" y1="100.5" x2="415.50" y2="793.5"/>
<line x1="508.50" y1="100.5" x2="508.50" y2="793.5"/>
<line x1="600.50" y1="100.5" x2="600.50" y2="793.5"/>
<line x1="692.50" y1="100.5" x2="692.50" y2="793.5"/>
<line x1="92.5" y1="669.50" x2="785.5" y2="669.50"/>
<line x1="92.5" y1="545.50" x2="785.5" y2="545.50"/>
<line x1="92.5" y1="421.50" x2="785.5" y2="421.50"/>
<line x1="92.5" y1="298.50" x2="785.5" y2="298.50"/>
<line x1="92.5" y1="174.50" x2="785.5" y2="174.50"/>
</g>
<g stroke="#000" stroke-width="1.11" fill="none">
<line x1="138.50" y1="793.5" x2="138.50" y2="798.36"/>
<line x1="230.50" y1="793.5" x2="230.50" y2="798.36"/>
<line x1="323.50" y1="793.5" x2="323.50" y2="798.36"/>
<line x1="415.50" y1="793.5" x2="415.50" y2="798.36"/>
<line x1="508.50" y1="793.5" x2="508.50" y2="798.36"/>
<line x1="600.50" y1="793.5" x2="600.50" y2="798.36"/>
<line x1="692.50" y1="793.5" x2="692.50" y2="798.36"/>
<line x1="785.50" y1="793.5" x2="785.50" y2="798.36"/>
<line x1="92.50" y1="793.5" x2="92.50" y2="796.28" stroke-width="0.83"/>
<line x1="115.50" y1="793.5" x2="115.50" y2="796.28" stroke-width="0.83"/>
<line x1="161.50" y1="793.5" x2="161.50" y2="796.28" stroke-width="0.83"/>
<line x1="184.50" y1="793.5" x2="184.50" y2="796.28" stroke-width="0.83"/>
<line x1="207.50" y1="793.5" x2="207.50" y2="796.28" stroke-width="0.83"/>
<line x1="253.50" y1="793.5" x2="253.50" y2="796.28" stroke-width="0.83"/>
<line x1="277.50" y1="793.5" x2="277.50" y2="796.28" stroke-width="0.83"/>
<line x1="300.50" y1="793.5" x2="300.50" y2="796.28" stroke-width="0.83"/>
<line x1="346.50" y1="793.5" x2="346.50" y2="796.28" stroke-width="0.83"/>
<line x1="369.50" y1="793.5" x2="369.50" y2="796.28" stroke-width="0.83"/>
<line x1="392.50" y1="793.5" x2="392.50" y2="796.28" stroke-width="0.83"/>
<line x1="438.50" y1="793.5" x2="438.50" y2="796.28" stroke-width="0.83"/>
<line x1="461.50" y1="793.5" x2="461.50" y2="796.28" stroke-width="0.83"/>
<line x1="484.50" y1="793.5" x2="484.50" y2="796.28" stroke-width="0.83"/>
<line x1="531.50" y1="793.5" x2="531.50" y2="796.28" stroke-width="0.83"/>
<line x1="554.50" y1="793.5" x2="554.50" y2="796.28" stroke-width="0.83"/>
<line x1="577.50" y1="793.5" x2="577.50" y2="796.28" stroke-width="0.83"/>
<line x1="623.50" y1="793.5" x2="623.50" y2="796.28" stroke-width="0.83"/>
<line x1="646.50" y1="793.5" x2="646.50" y2="796.28" stroke-width="0.83"/>
<line x1="669.50" y1="793.5" x2="669.50" y2="796.28" stroke-width="0.83"/>
<line x1="715.50" y1="793.5" x2="715.50" y2="796.28" stroke-width="0.83"/>
<line x1="739.50" y1="793.5" x2="739.50" y2="796.28" stroke-width="0.83"/>
<line x1="762.50" y1="793.5" x2="762.50" y2="796.28" stroke-width="0.83"/>
<line x1="92.5" y1="793.50" x2="87.64" y2="793.50"/>
<line x1="92.5" y1="669.50" x2="87.64" y2="669.50"/>
<line x1="92.5" y1="545.50" x2="87.64" y2="545.50"/>
<line x1="92.5" y1="421.50" x2="87.64" y2="421.50"/>
<line x1="92.5" y1="298.50" x2="87.64" y2="298.50"/>
<line x1="92.5" y1="174.50" x2="87.64" y2="174.50"/>
<line x1="92.5" y1="762.50" x2="89.72" y2="762.50" stroke-width="0.83"/>
<line x1="92.5" y1="731.50" x2="89.72" y2="731.50" stroke-width="0.83"/>
<line x1="92.5" y1="700.50" x2="89.72" y2="700.50" stroke-width="0.83"/>
<line x1="92.5" y1="638.50" x2="89.72" y2="638.50" stroke-width="0.83"/>
<line x1="92.5" y1="607.50" x2="89.72" y2="607.50" stroke-width="0.83"/>
<line x1="92.5" y1="576.50" x2="89.72" y2="576.50" stroke-width="0.83"/>
<line x1="92.5" y1="514.50" x2="89.72" y2="514.50" stroke-width="0.83"/>
<line x1="92.5" y1="483.50" x2="89.72" y2="483.50" stroke-width="0.83"/>
<line x1="92.5" y1="452.50" x2="89.72" y2="452.50" stroke-width="0.83"/>
<line x1="92.5" y1="390.50" x2="89.72" y2="390.50" stroke-width="0.83"/>
<line x1="92.5" y1="359.50" x2="89.72" y2="359.50" stroke-width="0.83"/>
<line x1="92.5" y1="329.50" x2="89.72" y2="329.50" stroke-width="0.83"/>
<line x1="92.5" y1="267.50" x2="89.72" y2="267.50" stroke-width="0.83"/>
<line x1="92.5" y1="236.50" x2="89.72" y2="236.50" stroke-width="0.83"/>
<line x1="92.5" y1="205.50" x2="89.72" y2="205.50" stroke-width="0.83"/>
<line x1="92.5" y1="143.50" x2="89.72" y2="143.50" stroke-width="0.83"/>
<line x1="92.5" y1="112.50" x2="89.72" y2="112.50" stroke-width="0.83"/>
</g>
<rect x="92.5" y="100.5" width="693.0" height="693.0" fill="none" stroke="#000" stroke-width="1.11"/>
<text class="t12" x="138.50" y="815.2" text-anchor="middle">2</text>
<text class="t12" x="230.50" y="815.2" text-anchor="middle">4</text>
<text class="t12" x="323.50" y="815.2" text-anchor="middle">6</text>
<text class="t12" x="415.50" y="815.2" text-anchor="middle">8</text>
<text class="t12" x="508.50" y="815.2" text-anchor="middle">10</text>
<text class="t12" x="600.50" y="815.2" text-anchor="middle">12</text>
<text class="t12" x="692.50" y="815.2" text-anchor="middle">14</text>
<text class="t12" x="785.50" y="815.2" text-anchor="middle">16</text>
<text class="t12" x="81.3" y="799.00" text-anchor="end">0</text>
<text class="t12" x="81.3" y="675.00" text-anchor="end">200</text>
<text class="t12" x="81.3" y="551.00" text-anchor="end">400</text>
<text class="t12" x="81.3" y="427.00" text-anchor="end">600</text>
<text class="t12" x="81.3" y="304.00" text-anchor="end">800</text>
<text class="t12" x="81.3" y="180.00" text-anchor="end">1000</text>
<text class="t17" transform="translate(336.59,841.7) scale(0.9648,1)">Frequency (MHz)</text>
<text class="t17" transform="translate(28.4,560.2) rotate(-90) scale(0.9596,1)">Virtual height (km)</text>
<text class="t20" transform="translate(157.7,31.7) scale(1.0413,1)">NAL CADI - Jul 19 04:15:06 2021 UTC</text>
<rect x="816.5" y="712.00" width="30.00" height="90.50" fill="#008000" shape-rendering="crispEdges"/>
<rect x="816.5" y="622.00" width="30.00" height="90.00" fill="#ff0000" shape-rendering="crispEdges"/>
<rect x="816.5" y="532.00" width="30.00" height="90.00" fill="#3a3aff" shape-rendering="crispEdges"/>
<rect x="816.5" y="442.00" width="30.00" height="90.00" fill="#ba55d3" shape-rendering="crispEdges"/>
<rect x="816.5" y="352.00" width="30.00" height="90.00" fill="#ffb6c1" shape-rendering="crispEdges"/>
<rect x="816.5" y="262.00" width="30.00" height="90.00" fill="#ffd700" shape-rendering="crispEdges"/>
<rect x="816.5" y="172.00" width="30.00" height="90.00" fill="#00ffff" shape-rendering="crispEdges"/>
<rect x="816.5" y="82.00" width="30.00" height="90.00" fill="#00bfff" shape-rendering="crispEdges"/>
<g stroke="#000" stroke-width="1.11" fill="none">
<line x1="846.5" y1="802.50" x2="849.28" y2="802.50" stroke-width="0.83"/>
<line x1="846.5" y1="712.50" x2="849.28" y2="712.50" stroke-width="0.83"/>
<line x1="846.5" y1="622.50" x2="849.28" y2="622.50" stroke-width="0.83"/>
<line x1="846.5" y1="532.50" x2="849.28" y2="532.50" stroke-width="0.83"/>
<line x1="846.5" y1="442.50" x2="849.28" y2="442.50" stroke-width="0.83"/>
<line x1="846.5" y1="352.50" x2="849.28" y2="352.50" stroke-width="0.83"/>
<line x1="846.5" y1="262.50" x2="849.28" y2="262.50" stroke-width="0.83"/>
<line x1="846.5" y1="172.50" x2="849.28" y2="172.50" stroke-width="0.83"/>
<line x1="846.5" y1="82.50" x2="849.28" y2="82.50" stroke-width="0.83"/>
<line x1="846.5" y1="757.50" x2="851.36" y2="757.50"/>
<line x1="846.5" y1="667.50" x2="851.36" y2="667.50"/>
<line x1="846.5" y1="577.50" x2="851.36" y2="577.50"/>
<line x1="846.5" y1="487.50" x2="851.36" y2="487.50"/>
<line x1="846.5" y1="397.50" x2="851.36" y2="397.50"/>
<line x1="846.5" y1="307.50" x2="851.36" y2="307.50"/>
<line x1="846.5" y1="217.50" x2="851.36" y2="217.50"/>
<line x1="846.5" y1="127.50" x2="851.36" y2="127.50"/>
</g>
<rect x="816.5" y="82.5" width="30.00" height="720.00" fill="none" stroke="#000" stroke-width="1.11"/>
<text class="t12" x="855.7" y="762.90">X-mode</text>
<text class="t12" x="855.7" y="672.90">Vertical</text>
<text class="t12" x="855.7" y="582.90">NNW</text>
<text class="t12" x="855.7" y="492.90">W</text>
<text class="t12" x="855.7" y="402.90">SSW</text>
<text class="t12" x="855.7" y="312.90">SSE</text>
<text class="t12" x="855.7" y="222.90">E</text>
<text class="t12" x="855.7" y="132.90">NNE</text>
<text class="t17" transform="translate(943.0,549.02) rotate(-90) scale(0.9557,1)">Azimuth Direction</text>
</svg>
</body></html>
